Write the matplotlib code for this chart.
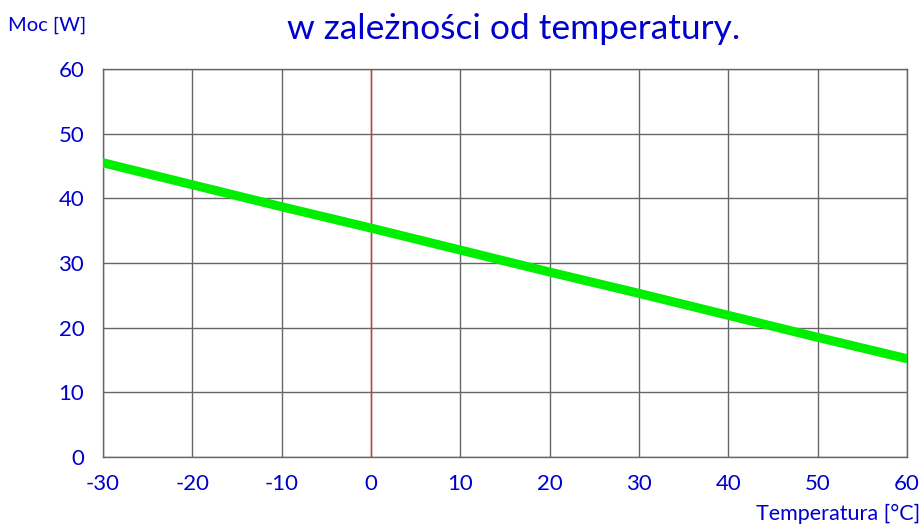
import matplotlib
matplotlib.use("Agg")
import matplotlib.pyplot as plt

temps = [-30, -20, -10, 0, 10, 20, 30, 40, 50, 60]
power = [45.5, 42.1, 38.7, 35.4, 32.0, 28.6, 25.3, 21.9, 18.5, 15.2]
x_ticks = [-30, -20, -10, 0, 10, 20, 30, 40, 50, 60]
y_ticks = [0, 10, 20, 30, 40, 50, 60]

plt.rcParams['font.family'] = ['Lato', 'DejaVu Sans']
plt.rcParams['axes.unicode_minus'] = False
blue = '#0000cc'

fig = plt.figure(figsize=(9.23, 5.28), dpi=100)
ax = fig.add_axes([0.1116, 0.1345, 0.8711, 0.7348])

ax.set_xlim(-30, 60)
ax.set_ylim(0, 60)
ax.set_xticks(x_ticks)
ax.set_yticks(y_ticks)
ax.grid(True, color='#666666', linewidth=1.0)
ax.set_axisbelow(True)
for s in ax.spines.values():
    s.set_color('#666666')
    s.set_linewidth(1.0)
ax.tick_params(length=0, labelsize=16, colors=blue, pad=12)
ax.tick_params(axis='y', pad=13.5)

ax.axvline(0, color='#e83030', linewidth=1.0, zorder=2)
ax.plot(temps, power, color='#00ee00', linewidth=6.5, solid_capstyle='round', zorder=3)

fig.text(0.557, 0.945, 'w zależności od temperatury.', ha='center', va='center',
         fontsize=25.5, color=blue)
fig.text(0.009, 0.952, 'Moc [W]', ha='left', va='center', fontsize=14.5, color=blue)
fig.text(0.997, 0.008, 'Temperatura [°C]', ha='right', va='bottom', fontsize=15.5, color=blue)

fig.savefig('out.png', dpi=100)
